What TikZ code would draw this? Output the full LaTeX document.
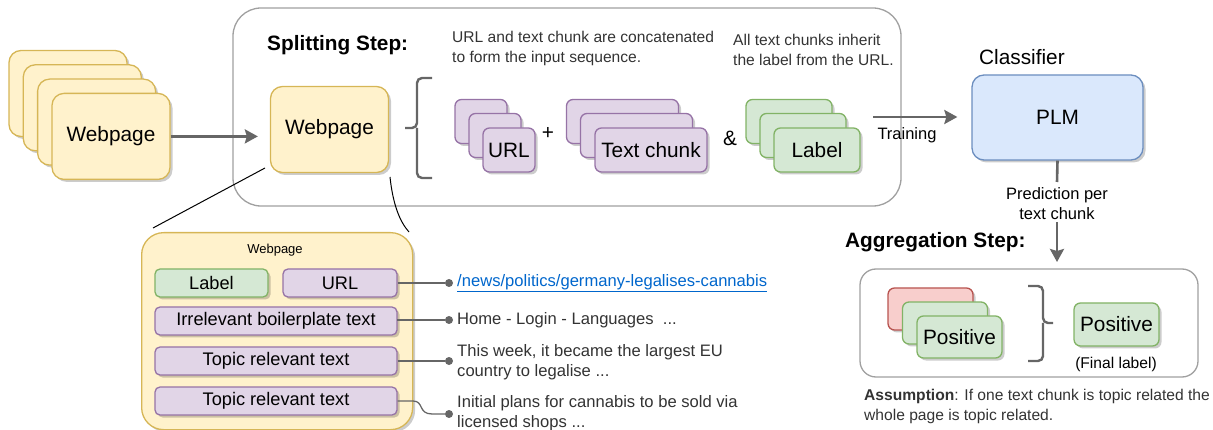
\documentclass[tikz,border=0pt]{standalone}
\usepackage{fontspec}
\setmainfont{Liberation Sans}
\usetikzlibrary{shadows,arrows.meta}
\definecolor{yfill}{HTML}{FFF2CC}\definecolor{ydraw}{HTML}{D6B656}
\definecolor{pfill}{HTML}{E1D5E7}\definecolor{pdraw}{HTML}{9673A6}
\definecolor{gfill}{HTML}{D5E8D4}\definecolor{gdraw}{HTML}{82B366}
\definecolor{rfill}{HTML}{F8CECC}\definecolor{rdraw}{HTML}{B85450}
\definecolor{bfill}{HTML}{DAE8FC}\definecolor{bdraw}{HTML}{6C8EBF}
\definecolor{arrgray}{HTML}{666666}
\definecolor{contgray}{HTML}{A0A0A0}
\definecolor{txtgray}{HTML}{333333}
\definecolor{linkblue}{HTML}{0066CC}
\newcommand\fsBig{\fontsize{20.8}{25}\selectfont}
\newcommand\fsMed{\fontsize{18.2}{22}\selectfont}
\newcommand\fsTrain{\fontsize{16.5}{20}\selectfont}
\newcommand\fsNorm{\fontsize{15.6}{20}\selectfont}
\newcommand\fsAnn{\fontsize{16.6}{20}\selectfont}
\newcommand\fsSmall{\fontsize{13}{16}\selectfont}
\tikzset{
  shad/.style={drop shadow={shadow xshift=2.5pt,shadow yshift=-2.5pt,fill=black,opacity=0.2}},
  rbox/.style={draw,line width=1.3pt,rounded corners=#1,inner sep=0pt,shad},
  ybox/.style={rbox=12pt,fill=yfill,draw=ydraw,minimum width=118pt,minimum height=86pt,font=\fsBig},
  pbox/.style={rbox=6.5pt,fill=pfill,draw=pdraw,minimum height=44pt,font=\fsBig},
  gbox/.style={rbox=6.5pt,fill=gfill,draw=gdraw,minimum height=44pt,font=\fsBig},
  rdbox/.style={rbox=6.5pt,fill=rfill,draw=rdraw,minimum height=42pt,font=\fsBig},
  dbox/.style={rbox=5pt,minimum height=28pt,font=\fsMed},
  garrow/.style={draw=arrgray,line width=2.6pt,-{Stealth[length=13pt,width=14pt,inset=2pt]}},
  gline/.style={draw=arrgray,line width=2.6pt},
  brace/.style={draw=arrgray,line width=2.4pt,rounded corners=5pt},
  conn/.style={draw=arrgray,line width=1.3pt},
  dot/.style={circle,fill=arrgray,inner sep=0pt,minimum size=8pt},
  note/.style={font=\fsNorm,text=txtgray,align=left,inner sep=0pt,anchor=west},
  ann/.style={note,font=\fsAnn},
  cont/.style={draw=contgray,line width=1.3pt},
}
\begin{document}
\begin{tikzpicture}[x=1pt,y=-1pt]
\useasboundingbox (0,0) rectangle (1213,430);
% left stack of webpages
\node[ybox] (s1) at (68,93.5) {};
\node[ybox] (s2) at (82.3,107.8) {};
\node[ybox] (s3) at (96.6,122.1) {};
\node[ybox] (s4) at (111,136.4) {Webpage};
% splitting container
\draw[cont,rounded corners=28pt] (233,8) rectangle (901,206);
\node[font=\fsBig\bfseries,anchor=west,inner sep=0pt] (split) at (267,45) {Splitting Step:};
\node[note] (n1) at (452,48.5) {URL and text chunk are concatenated\\to form the input sequence.};
\node[note] (n2) at (733,50) {All text chunks inherit\\the label from the URL.};
\node[ybox] (web2) at (329.5,129.5) {Webpage};
\draw[garrow,shorten >=12pt] (s4.east) -- (s4.east -| web2.west);
% brace
\coordinate (bl) at (405,128);
\draw[brace] (432,78) -- (417,78) -- (417,128) -- (bl);
\draw[brace] (432,178) -- (417,178) -- (417,128);
% URL stack
\node[pbox,minimum width=52pt] (u1) at (481,121.5) {};
\node[pbox,minimum width=52pt] (u2) at (495,135.5) {};
\node[pbox,minimum width=52pt] (u3) at (509,150) {URL};
\node[font=\fsBig,inner sep=0pt] (plus) at (548,133) {+};
% Text chunk stack
\node[pbox,minimum width=112pt] (t1) at (622.5,121.5) {};
\node[pbox,minimum width=112pt] (t2) at (636.5,135.5) {};
\node[pbox,minimum width=112pt] (t3) at (651,150) {Text chunk};
\node[font=\fsBig,inner sep=0pt] (amp) at (730,138) {\&};
% Label stack
\node[gbox,minimum width=86pt] (l1) at (789,121.5) {};
\node[gbox,minimum width=86pt] (l2) at (803,135.5) {};
\node[gbox,minimum width=86pt] (l3) at (817,150) {Label};
% classifier
\node[rbox=12pt,fill=bfill,draw=bdraw,minimum width=171pt,minimum height=85pt,font=\fsBig] (plm) at (1057.5,117.5) {PLM};
\node[font=\fsBig,anchor=west,inner sep=0pt] (clf) at (979,57) {Classifier};
\coordinate (trs) at (873,117);
\draw[garrow,shorten >=14pt] (trs) -- (trs -| plm.west);
\node[font=\fsTrain,inner sep=0pt] (train) at (907,135) {Training};
% prediction
\node[font=\fsTrain,align=center,inner sep=0pt] (pred) at (1057,204) {Prediction per\\text chunk};
\coordinate (predtop) at (1057,182);
\draw[gline] (plm.south) -- (predtop);
% aggregation
\node[font=\fsBig\bfseries,anchor=west,inner sep=0pt] (agg) at (845,242) {Aggregation Step:};
\draw[cont,rounded corners=16pt] (860,269) rectangle (1198,377);
\coordinate (aggtop) at (1057,269);
\draw[garrow,shorten >=7pt,shorten <=2pt] (pred.south -| aggtop) -- (aggtop);
\node[rdbox,minimum width=85pt] (r1) at (930.5,309) {};
\node[gbox,minimum width=85pt,minimum height=42pt] (g1) at (945,323) {};
\node[gbox,minimum width=85pt,minimum height=42pt] (g2) at (959.5,337) {Positive};
\coordinate (br) at (1053,323);
\draw[brace] (1028,286) -- (1043,286) -- (1043,323) -- (br);
\draw[brace] (1028,361) -- (1043,361) -- (1043,323);
\node[gbox,minimum width=85pt,minimum height=43pt] (fin) at (1116.5,324.5) {Positive};
\node[font=\fsNorm,inner sep=0pt] (finl) at (1116,364) {(Final label)};
\node[note,anchor=north west] (ass) at (864,389) {\textbf{Assumption}: If one text chunk is topic related the\\whole page is topic related.};
% detail webpage
\node[rbox=22pt,fill=yfill,draw=ydraw,minimum width=271pt,minimum height=197pt,anchor=north west] (det) at (141,232) {};
\node[font=\fsSmall,inner sep=0pt] (dett) at (275,250) {Webpage};
\node[dbox,fill=gfill,draw=gdraw,minimum width=113pt] (dl) at (211.5,283) {Label};
\node[dbox,fill=pfill,draw=pdraw,minimum width=114pt] (du) at (340,283) {URL};
\node[dbox,fill=pfill,draw=pdraw,minimum width=242pt] (di) at (276,321) {Irrelevant boilerplate text};
\node[dbox,fill=pfill,draw=pdraw,minimum width=242pt] (dt1) at (276,361) {Topic relevant text};
\node[dbox,fill=pfill,draw=pdraw,minimum width=242pt] (dt2) at (276,401) {Topic relevant text};
% zoom lines
\draw[line width=1pt] (265,168) -- (153,228);
\draw[line width=1pt] (390,177) .. controls (393,205) and (400,222) .. (409,232);
% annotations
\node[dot] (d1) at (449,283) {};
\node[dot] (d2) at (449,320) {};
\node[dot] (d3) at (449,361) {};
\node[dot] (d4) at (449,414) {};
\draw[conn] (du.east) -- (d1);
\draw[conn] (di.east) -- (d2 -| di.east) -- (d2);
\draw[conn] (dt1.east) -- (d3 -| dt1.east) -- (d3);
\draw[conn] (dt2.east) -- (413,401) .. controls (424,401) and (418,414) .. (432,414) -- (d4);
\node[ann,text=linkblue] (a1) at (457,283) {\underline{/news/politics/germany-legalises-cannabis}};
\node[ann] (a2) at (457,320) {Home - Login - Languages\ \ ...};
\node[ann] (a3) at (457,362) {This week, it became the largest EU\\country to legalise ...};
\node[ann] (a4) at (457,413) {Initial plans for cannabis to be sold via\\licensed shops ...};
\end{tikzpicture}
\end{document}
